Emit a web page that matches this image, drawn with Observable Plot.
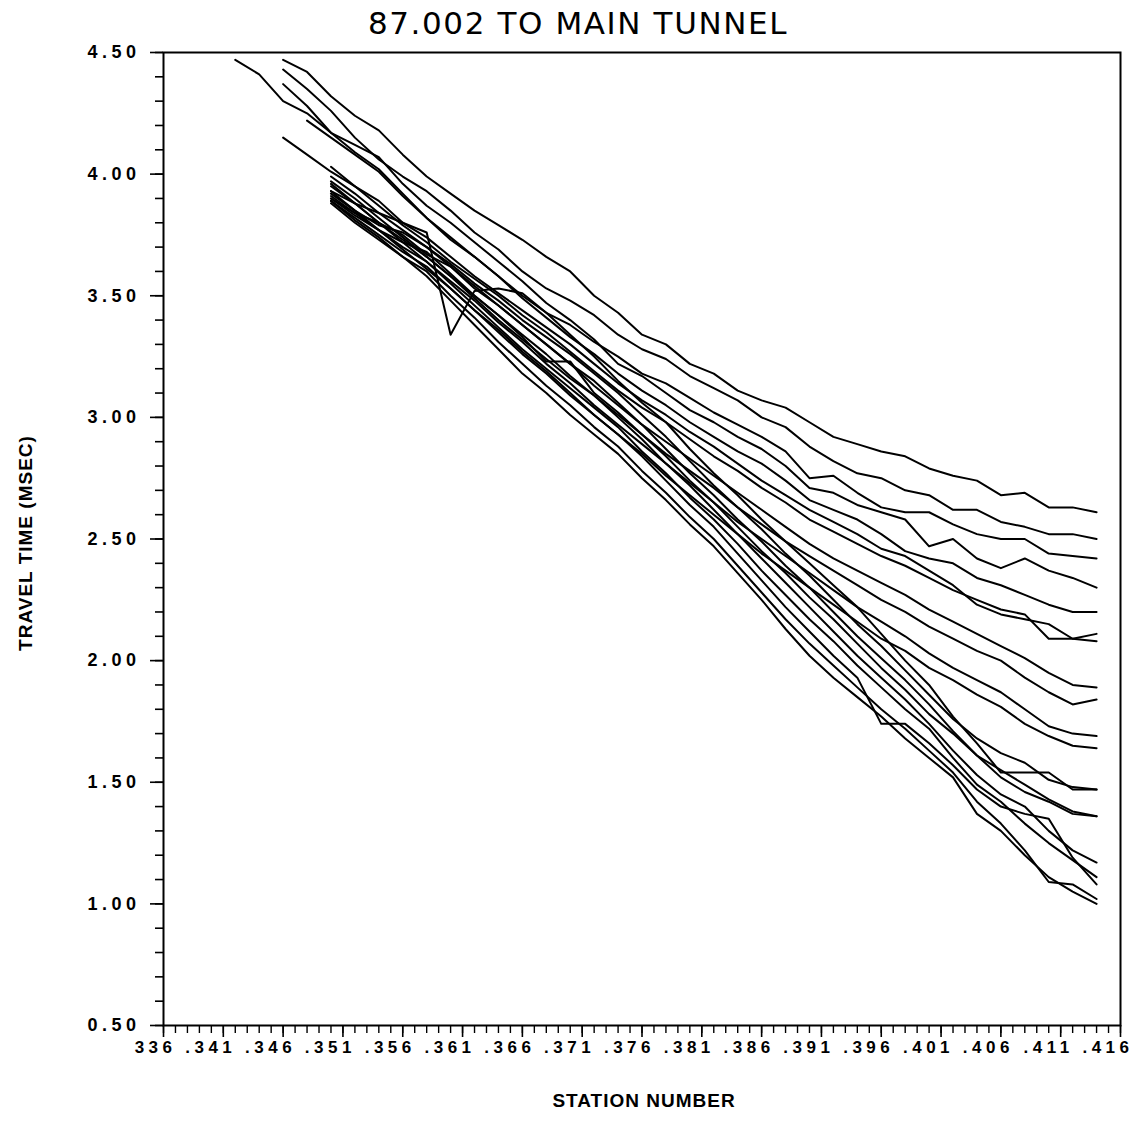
<!DOCTYPE html>
<html><head><meta charset="utf-8">
<script src="https://cdn.jsdelivr.net/npm/d3@7"></script>
<script src="https://cdn.jsdelivr.net/npm/@observablehq/plot@0.6"></script>
<style>
body{margin:0;background:#fff;}
#title{width:1156px;height:40px;text-align:center;font-family:"DejaVu Sans",sans-serif;font-size:31px;line-height:46px;letter-spacing:1.6px;color:#000;}
</style></head><body>
<div id="title">87.002 TO MAIN TUNNEL</div>
<div id="chart"></div>
<script>
// Station positions of the traced vertices
const stations = [342,344,346,348,350,352,354,356,358,360,362,364,366,368,370,372,374,376,378,380,382,384,386,388,390,392,394,396,398,400,402,404,406,408,410,412,414];
// First station of every trace
const lineStarts = [346,346,346,342,348,346,350,350,350,350,350, 350,350,350,350,350,350,350,350,350];
// Travel times (msec), one array per trace
const line01 = [4.47,4.42,4.32,4.24,4.18,4.08,3.99,3.92,3.85,3.79,3.73,3.66,3.60,3.50,3.43,3.34,3.30,3.22,3.18,3.11,3.07,3.04,2.98,2.92,2.89,2.86,2.84,2.79,2.76,2.74,2.68,2.69,2.63,2.63,2.61];
const line02 = [4.43,4.35,4.26,4.15,4.06,3.99,3.93,3.85,3.76,3.69,3.60,3.53,3.48,3.42,3.34,3.28,3.24,3.17,3.12,3.07,3.00,2.96,2.88,2.82,2.77,2.75,2.70,2.68,2.62,2.62,2.57,2.55,2.52,2.52,2.50];
const line03 = [4.37,4.28,4.17,4.09,4.02,3.92,3.82,3.73,3.66,3.58,3.50,3.43,3.38,3.31,3.25,3.18,3.14,3.08,3.02,2.97,2.92,2.86,2.75,2.76,2.69,2.63,2.61,2.61,2.56,2.52,2.50,2.50,2.44,2.43,2.42];
const line04 = [4.47,4.41,4.30,4.25,4.17,4.12,4.07,3.96,3.87,3.80,3.72,3.64,3.56,3.47,3.40,3.32,3.22,3.17,3.10,3.03,2.98,2.92,2.87,2.80,2.71,2.69,2.64,2.61,2.58,2.47,2.50,2.42,2.38,2.42,2.37,2.34,2.30];
const line05 = [4.22,4.15,4.08,4.01,3.91,3.82,3.74,3.66,3.58,3.49,3.41,3.33,3.26,3.18,3.11,3.05,2.98,2.92,2.86,2.81,2.74,2.66,2.62,2.58,2.52,2.45,2.42,2.40,2.34,2.31,2.27,2.23,2.20,2.20];
const line06 = [4.15,4.08,4.01,3.95,3.89,3.80,3.74,3.66,3.58,3.51,3.44,3.37,3.30,3.22,3.14,3.07,3.01,2.94,2.88,2.81,2.74,2.68,2.62,2.57,2.52,2.46,2.43,2.37,2.31,2.23,2.19,2.17,2.15,2.09,2.11];
const line07 = [4.03,3.95,3.87,3.79,3.72,3.64,3.57,3.50,3.42,3.35,3.27,3.19,3.11,3.04,2.98,2.91,2.84,2.78,2.71,2.65,2.58,2.53,2.48,2.43,2.39,2.34,2.29,2.25,2.21,2.19,2.09,2.09,2.08];
const line08 = [3.99,3.92,3.84,3.77,3.70,3.62,3.54,3.46,3.38,3.30,3.22,3.13,3.05,2.97,2.90,2.83,2.76,2.69,2.62,2.55,2.48,2.42,2.37,2.32,2.27,2.21,2.16,2.11,2.06,2.01,1.95,1.90,1.89];
const line09 = [3.97,3.90,3.82,3.74,3.66,3.58,3.50,3.42,3.34,3.26,3.17,3.09,3.01,2.93,2.85,2.78,2.71,2.63,2.56,2.49,2.43,2.37,2.31,2.25,2.20,2.14,2.09,2.04,2.00,1.93,1.87,1.82,1.84];
const line10 = [3.95,3.88,3.80,3.72,3.64,3.56,3.48,3.39,3.31,3.22,3.14,3.05,2.97,2.89,2.81,2.73,2.65,2.57,2.50,2.43,2.36,2.29,2.22,2.16,2.10,2.03,1.97,1.92,1.87,1.80,1.73,1.70,1.69];
const line11 = [3.93,3.85,3.77,3.69,3.61,3.53,3.44,3.36,3.27,3.19,3.10,3.01,2.93,2.85,2.76,2.68,2.60,2.52,2.44,2.37,2.30,2.23,2.16,2.09,2.04,1.97,1.92,1.86,1.81,1.74,1.69,1.65,1.64];
const line12 = [3.93,3.88,3.84,3.80,3.76,3.34,3.52,3.53,3.51,3.43,3.34,3.25,3.15,3.06,2.98,2.87,2.77,2.68,2.58,2.49,2.40,2.31,2.22,2.11,2.00,1.90,1.77,1.66,1.54,1.54,1.54,1.47,1.47];
const line13 = [3.92,3.85,3.79,3.76,3.70,3.63,3.55,3.48,3.40,3.33,3.26,3.18,3.10,3.01,2.92,2.82,2.72,2.63,2.54,2.44,2.35,2.25,2.15,2.06,1.96,1.86,1.76,1.68,1.62,1.58,1.51,1.48,1.47];
const line14 = [3.91,3.84,3.80,3.75,3.67,3.62,3.53,3.46,3.38,3.30,3.22,3.15,3.06,2.97,2.87,2.77,2.68,2.58,2.49,2.39,2.30,2.20,2.10,2.01,1.92,1.82,1.71,1.61,1.52,1.46,1.42,1.37,1.36];
const line15 = [3.90,3.83,3.77,3.72,3.68,3.59,3.50,3.42,3.33,3.23,3.23,3.10,3.02,2.93,2.84,2.74,2.65,2.55,2.45,2.36,2.26,2.17,2.07,1.97,1.88,1.78,1.70,1.61,1.55,1.49,1.43,1.38,1.36];
const line16 = [3.96,3.88,3.80,3.73,3.66,3.58,3.49,3.40,3.32,3.24,3.16,3.09,3.00,2.91,2.81,2.72,2.62,2.52,2.42,2.32,2.22,2.12,2.02,1.93,1.84,1.74,1.63,1.53,1.45,1.40,1.30,1.22,1.17];
const line17 = [3.90,3.84,3.77,3.70,3.64,3.55,3.46,3.37,3.28,3.20,3.12,3.04,2.96,2.86,2.77,2.67,2.58,2.48,2.37,2.27,2.17,2.08,1.98,1.89,1.80,1.72,1.60,1.49,1.42,1.33,1.25,1.18,1.11];
const line18 = [3.89,3.82,3.75,3.68,3.62,3.53,3.44,3.35,3.26,3.18,3.09,3.01,2.93,2.84,2.74,2.64,2.55,2.44,2.33,2.22,2.12,2.02,1.93,1.74,1.74,1.66,1.57,1.47,1.40,1.37,1.35,1.19,1.08];
const line19 = [3.88,3.80,3.73,3.66,3.60,3.50,3.41,3.31,3.22,3.13,3.05,2.96,2.88,2.78,2.69,2.59,2.50,2.39,2.28,2.17,2.07,1.98,1.89,1.80,1.72,1.63,1.54,1.42,1.33,1.22,1.09,1.08,1.02];
const line20 = [3.89,3.81,3.74,3.66,3.58,3.48,3.38,3.28,3.18,3.10,3.01,2.93,2.85,2.75,2.66,2.56,2.47,2.36,2.25,2.13,2.02,1.93,1.85,1.77,1.68,1.60,1.52,1.37,1.30,1.20,1.11,1.05,1.00];
// Axis ticks
const xMajorTicks = [336,341,346,351,356,361,366,371,376,381,386,391,396,401,406,411,416];
const xMinorTicks = [336,337,338,339,340,341,342,343,344,345,346,347,348,349,350,351,352,353,354,355,356,357,358,359,360,361,362,363,364,365,366,367,368,369,370,371,372,373,374,375,376,377,378,379,380,381,382,383,384,385,386,387,388,389,390,391,392,393,394,395,396,397,398,399,400,401,402,403,404,405,406,407,408,409,410,411,412,413,414,415,416];
const yMajorTicks = [0.5,1.0,1.5,2.0,2.5,3.0,3.5,4.0,4.5];
const yMinorTicks = [0.5,0.6,0.7,0.8,0.9,1.0,1.1,1.2,1.3,1.4,1.5,1.6,1.7,1.8,1.9,2.0,2.1,2.2,2.3,2.4,2.5,2.6,2.7,2.8,2.9,3.0,3.1,3.2,3.3,3.4,3.5,3.6,3.7,3.8,3.9,4.0,4.1,4.2,4.3,4.4,4.5];

const traces = [line01,line02,line03,line04,line05,line06,line07,line08,line09,line10,
                line11,line12,line13,line14,line15,line16,line17,line18,line19,line20];
const rows = [];
traces.forEach((vals, i) => {
  const i0 = stations.indexOf(lineStarts[i]);
  vals.forEach((v, j) => rows.push({station: stations[i0 + j], time: v, trace: i}));
});

const font = "'Liberation Sans', 'DejaVu Sans', sans-serif";
const svg = Plot.plot({
  width: 1142, height: 1081,
  marginTop: 12, marginBottom: 96, marginLeft: 163, marginRight: 22,
  x: {domain: [336, 416], label: null},
  y: {domain: [0.5, 4.5], label: null},
  style: {background: "white", color: "black", fontFamily: font, overflow: "visible"},
  marks: [
    Plot.axisY({ticks: yMinorTicks, tickSize: 8, tickFormat: () => "", strokeWidth: 1.6, label: null}),
    Plot.axisY({ticks: yMajorTicks, tickSize: 13, tickPadding: 10, tickFormat: d3.format(".2f"),
                fontSize: 18, fontWeight: "bold", strokeWidth: 1.6, label: null}),
    Plot.axisX({ticks: xMinorTicks, tickSize: 8, tickFormat: () => "", strokeWidth: 1.4, label: null}),
    Plot.axisX({ticks: xMajorTicks, tickSize: 12, tickFormat: () => "", strokeWidth: 1.6, label: null}),
    Plot.axisX({ticks: xMajorTicks, tickSize: 0, tickPadding: 15,
                tickFormat: d => d === 336 ? "336" : "." + d,
                textAnchor: "end", dx: 13, fontSize: 17, fontWeight: "bold", label: null}),
    Plot.frame({stroke: "black", strokeWidth: 2}),
    Plot.line(rows, {x: "station", y: "time", z: "trace", stroke: "black", strokeWidth: 2, strokeLinejoin: "round"}),
    Plot.text(["STATION NUMBER"], {text: d => d, frameAnchor: "bottom", dy: 81, dx: 2,
                fontSize: 19, fontWeight: "bold", fontFamily: font}),
    Plot.text(["TRAVEL TIME (MSEC)"], {text: d => d, frameAnchor: "left", rotate: -90, dx: -138, dy: 4,
                textAnchor: "middle", fontSize: 19, fontWeight: "bold", fontFamily: font})
  ]
});
d3.select(svg).selectAll("g[aria-label='y-axis tick label'] text, g[aria-label='x-axis tick label'] text")
  .attr("letter-spacing", "4.5px");
d3.select(svg).selectAll("g[aria-label='text'] text").attr("letter-spacing", "1px");
document.getElementById("chart").appendChild(svg);
</script></body></html>
